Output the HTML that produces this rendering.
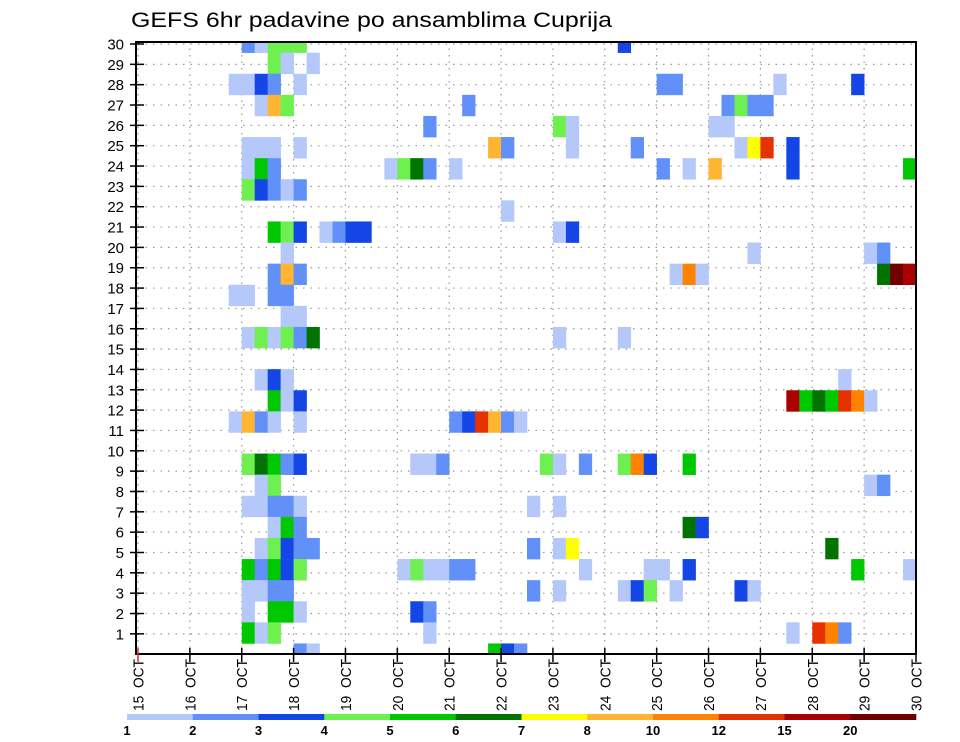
<!DOCTYPE html>
<html><head><meta charset="utf-8"><style>
html,body{margin:0;padding:0;background:#fff;}
svg{display:block;font-family:"Liberation Sans",sans-serif;}
</style></head><body>
<svg id="chart" width="960" height="742" viewBox="0 0 960 742" xmlns="http://www.w3.org/2000/svg">
<defs><clipPath id="plotclip"><rect x="136" y="42" width="780" height="612"/></clipPath></defs>
<text x="131" y="27" font-size="21" textLength="481" lengthAdjust="spacingAndGlyphs" fill="#000">GEFS 6hr padavine po ansamblima Cuprija</text>
<g id="grid"></g>
<g id="cells" clip-path="url(#plotclip)"></g>
<rect x="136" y="42" width="780" height="612" fill="none" stroke="#000" stroke-width="2"/>
<g id="yaxis"></g>
<g id="xaxis"></g>
<g id="legend"></g>
</svg>
<script>
// data: one entry per cell (visual row from bottom, 6-hour step, precipitation level)
const cellRow = [
29,29,29,29,29,29,
28,28,28,
27,27,27,27,27,27,27,27,27,
26,26,26,26,26,26,26,26,
25,25,25,25,25,
24,24,24,24,24,24,24,24,24,24,24,24,
23,23,23,23,23,23,23,23,23,23,23,23,23,
22,22,22,22,22,
21,
20,20,20,20,20,20,20,20,20,
19,19,19,19,
18,18,18,18,18,18,18,18,18,
17,17,17,17,
16,16,
15,15,15,15,15,15,15,15,
13,13,13,13,
12,12,12,12,12,12,12,12,12,12,
11,11,11,11,11,11,11,11,11,11,11,
9,9,9,9,9,9,9,9,9,9,9,9,9,9,9,
8,8,8,8,
7,7,7,7,7,7,7,
6,6,6,6,6,
5,5,5,5,5,5,5,5,5,
4,4,4,4,4,4,4,4,4,4,4,4,4,4,4,4,4,
3,3,3,3,3,3,3,3,3,3,3,3,
2,2,2,2,2,2,
1,1,1,1,1,1,1,1,
0,0,0,0,0];
const cellStep = [
8,9,10,11,12,37,
10,11,13,
7,8,9,10,12,40,41,49,55,
9,10,11,25,45,46,47,48,
22,32,33,44,45,
8,9,10,12,27,28,33,38,46,47,48,50,
8,9,10,19,20,21,22,24,40,42,44,50,59,
8,9,10,11,12,
28,
10,11,12,14,15,16,17,32,33,
11,47,56,57,
10,11,12,41,42,43,57,58,59,
7,8,10,11,
11,12,
8,9,10,11,12,13,32,37,
9,10,11,54,
10,11,12,50,51,52,53,54,55,56,
7,8,9,10,12,24,25,26,27,28,29,
8,9,10,11,12,21,22,23,31,32,34,37,38,39,42,
9,10,56,57,
8,9,10,11,12,30,32,
10,11,12,42,43,
9,10,11,12,13,30,32,33,53,
8,9,10,11,12,20,21,22,23,24,25,34,39,40,42,55,59,
8,9,10,11,30,32,37,38,39,41,46,47,
8,10,11,12,21,22,
8,9,10,22,50,52,53,54,
12,13,27,28,29];
const cellLevel = [
1,0,3,3,3,2,
3,0,0,
0,0,2,1,0,1,1,0,2,
0,7,3,1,1,3,1,1,
1,3,0,0,0,
0,0,0,0,7,1,0,1,0,6,9,2,
0,4,1,0,3,5,1,0,1,0,7,2,4,
3,2,1,0,1,
0,
4,3,2,0,1,2,2,0,2,
0,0,0,1,
1,7,1,0,8,0,5,11,10,
0,0,1,1,
0,0,
0,3,0,3,1,5,0,0,
0,2,0,0,
4,0,2,10,4,5,4,9,8,0,
0,7,1,0,0,1,2,9,7,1,0,
3,5,4,1,2,0,0,1,3,0,1,3,8,2,4,
0,3,0,1,
0,0,1,1,0,0,0,
0,4,1,5,2,
0,3,2,1,1,1,0,6,5,
4,1,4,2,3,0,3,0,0,1,1,0,0,0,2,4,0,
0,0,1,1,1,0,0,2,3,0,2,0,
0,4,4,0,2,1,
4,0,3,0,0,9,8,1,
1,0,4,2,1];
const levelColors = ["#b4c8fa","#6090f8","#1446e6","#6ef050","#00c800","#007300","#ffff00","#ffb432","#ff8200","#e63200","#aa0000","#6e0000"];
const legendLabels = ["1","2","3","4","5","6","7","8","10","12","15","20"];
const dayLabels = ["15","16","17","18","19","20","21","22","23","24","25","26","27","28","29","30"];
const rowLabels = [1,2,3,4,5,6,7,8,9,10,11,12,13,14,15,16,17,18,19,20,21,22,23,24,25,26,27,28,29,30];

const NS = "http://www.w3.org/2000/svg";
const PX0 = 138, PX1 = 916, PY0 = 42, PY1 = 654;
const stepW = (PX1 - PX0) / 60;
function xStep(k){ return PX0 + k * stepW; }
function xDay(i){ return PX0 + i * stepW * 4; }
const rowH = 21.1;
function yRow(v){ return PY1 - v * rowH; }
function yLabel(r){ return 44 + (30 - r) * 20.34; }
function mk(tag, attrs, parent){
  const e = document.createElementNS(NS, tag);
  for (const a in attrs) e.setAttribute(a, attrs[a]);
  parent.appendChild(e); return e;
}
const gGrid = document.getElementById('grid');
const gCells = document.getElementById('cells');
const gY = document.getElementById('yaxis');
const gX = document.getElementById('xaxis');
const gL = document.getElementById('legend');

rowLabels.forEach(r => {
  const y = yLabel(r);
  const l = mk('line', {x1:PX0, x2:PX1, y1:y, y2:y, stroke:'#999', 'stroke-width':1.2, 'stroke-dasharray':'1.5 6'}, gGrid);
  
  
});
dayLabels.forEach((d, i) => {
  const x = xDay(i);
  const l = mk('line', {x1:x, x2:x, y1:PY0, y2:PY1, stroke:'#999', 'stroke-width':1.2, 'stroke-dasharray':'1.5 5'}, gGrid);
  
  
});

for (let i = 0; i < cellRow.length; i++) {
  const yc = yRow(cellRow[i]);
  const c = mk('rect', {x:xStep(cellStep[i]), y:yc - rowH/2, width:stepW + 0.3, height:rowH + 0.3, fill:levelColors[cellLevel[i]]}, gCells);
  
  
}

rowLabels.forEach(r => {
  const y = yLabel(r);
  const t = mk('line', {x1:PX0 - 8, x2:PX0 + 6, y1:y, y2:y, stroke:'#000', 'stroke-width':1.5}, gY);
  
  
  const tx = mk('text', {x:124, y:y + 5.5, 'font-size':15, 'text-anchor':'end', fill:'#000'}, gY);
  tx.textContent = r;
  
  
});

dayLabels.forEach((d, i) => {
  const x = xDay(i);
  const t = mk('line', {x1:x, x2:x, y1:PY1 - 6, y2:PY1 + 8, stroke: i === 0 ? '#c33' : '#000', 'stroke-width':1.5}, gX);
  
  
  const tx = mk('text', {x:0, y:0, 'font-size':15, 'text-anchor':'start', fill:'#000', transform:'translate(' + (x + 5.5) + ',711) rotate(-90)', textLength:52, lengthAdjust:'spacingAndGlyphs'}, gX);
  tx.textContent = d + '\u00a0\u00a0OCT';
  
  
});

const LX0 = 127, LX1 = 916, segW = (LX1 - LX0) / levelColors.length;
levelColors.forEach((c, i) => {
  const r = mk('rect', {x:LX0 + i * segW, y:714, width:segW + 0.3, height:6, fill:c}, gL);
  
  
});
legendLabels.forEach((s, i) => {
  const t = mk('text', {x:LX0 + i * segW, y:735, 'font-size':13, 'font-weight':'bold', 'text-anchor':'middle', fill:'#000'}, gL);
  t.textContent = s;
  
  
});
</script>
</body></html>
